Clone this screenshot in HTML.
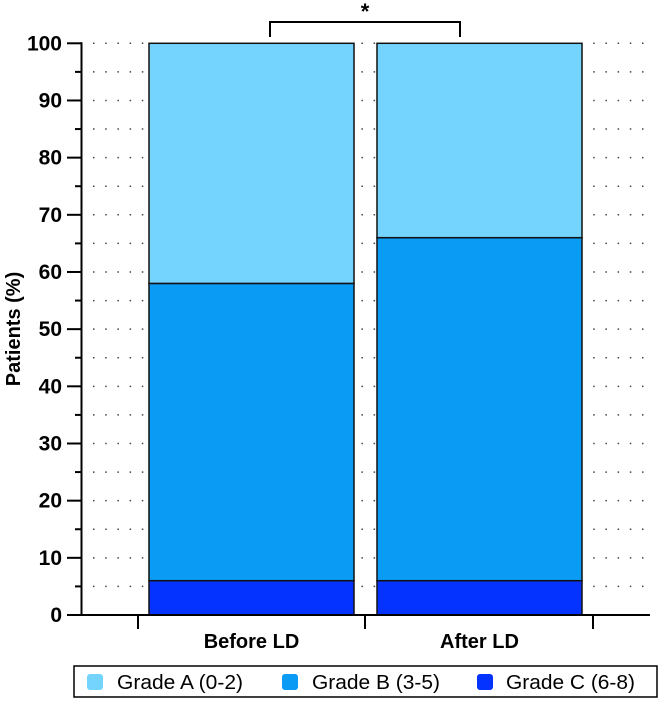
<!DOCTYPE html>
<html><head><meta charset="utf-8"><style>
body{margin:0;background:#fff;}
svg text{font-family:"Liberation Sans",Arial,sans-serif;}
</style></head><body>
<svg width="658" height="699" xmlns="http://www.w3.org/2000/svg">
<g id="grid"></g>
<g id="bars"></g>
<g id="axes"></g>
<text transform="translate(20,329) rotate(-90)" text-anchor="middle" font-size="20" font-weight="bold">Patients (%)</text>
<g>
<path d="M270,37 V22 H460 V37" fill="none" stroke="#000" stroke-width="2"/>
<text x="365" y="19" text-anchor="middle" font-size="22" font-weight="bold">*</text>
</g>
<g>
<rect x="74" y="666" width="583" height="31" fill="#fff" stroke="#000" stroke-width="1.5"/>
<rect x="87" y="674" width="16" height="16" rx="3" fill="#75D4FD"/>
<text x="117" y="689" font-size="20" textLength="126" lengthAdjust="spacingAndGlyphs">Grade A (0-2)</text>
<rect x="282" y="674" width="16" height="16" rx="3" fill="#0A9BF5"/>
<text x="312" y="689" font-size="20" textLength="128" lengthAdjust="spacingAndGlyphs">Grade B (3-5)</text>
<rect x="477" y="674" width="16" height="16" rx="3" fill="#0433FF"/>
<text x="506" y="689" font-size="20" textLength="129" lengthAdjust="spacingAndGlyphs">Grade C (6-8)</text>
</g>
</svg>
<script>
const categories=["Before LD","After LD"];
const gradeC=[6,6];
const gradeB=[52,60];
const gradeA=[42,34];
const yTicks=[0,10,20,30,40,50,60,70,80,90,100];
const NS="http://www.w3.org/2000/svg";
const y0=615,y100=43.3;
function yS(v){return y0-(y0-y100)*v/100;}
const barX=[149,377],barW=205;
function mk(tag,attrs,parent){const e=document.createElementNS(NS,tag);for(const k in attrs)e.setAttribute(k,attrs[k]);parent.appendChild(e);return e;}
const grid=document.getElementById('grid'),bars=document.getElementById('bars'),axes=document.getElementById('axes');
for(let v=5;v<=100;v+=5){const yy=yS(v);
 const l=mk('line',{x1:93,x2:650,y1:yy,y2:yy,stroke:'#444','stroke-width':1.5,'stroke-dasharray':'1.5 10.7'},grid);
 
 }
const colors=["#0433FF","#0A9BF5","#75D4FD"];
const names=["grade-c","grade-b","grade-a"];
categories.forEach((c,i)=>{let base=0;[gradeC,gradeB,gradeA].forEach((s,j)=>{const top=base+s[i];
 const r=mk('rect',{x:barX[i],y:yS(top),width:barW,height:yS(base)-yS(top),fill:colors[j],stroke:'#111','stroke-width':1.5},bars);
 
 
 base=top;});
 const t=mk('text',{x:barX[i]+barW/2,y:648,'text-anchor':'middle','font-size':20,'font-weight':'bold'},axes);t.textContent=c;
 
 
});
mk('line',{x1:81.5,x2:81.5,y1:y100-1,y2:y0,stroke:'#000','stroke-width':2},axes);
mk('line',{x1:67,x2:650,y1:y0,y2:y0,stroke:'#000','stroke-width':2},axes);
[138,365,593].forEach(x=>mk('line',{x1:x,x2:x,y1:y0,y2:629,stroke:'#000','stroke-width':2},axes));
for(let v=5;v<100;v+=10)mk('line',{x1:75,x2:82,y1:yS(v),y2:yS(v),stroke:'#000','stroke-width':2},axes);
yTicks.forEach(v=>{mk('line',{x1:67,x2:82,y1:yS(v),y2:yS(v),stroke:'#000','stroke-width':2},axes);
 const t=mk('text',{x:62,y:yS(v)+7,'text-anchor':'end','font-size':21,'font-weight':'bold'},axes);t.textContent=v;
 
 });
</script>
</body></html>
